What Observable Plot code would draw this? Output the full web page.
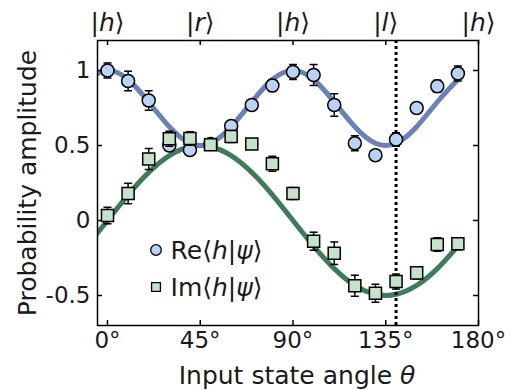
<!DOCTYPE html>
<html>
<head>
<meta charset="utf-8">
<script src="https://cdn.jsdelivr.net/npm/d3@7"></script>
<script src="https://cdn.jsdelivr.net/npm/@observablehq/plot@0.6"></script>
<style>
  html, body { margin: 0; padding: 0; background: #fff; }
</style>
</head>
<body>
<div id="chart"></div>
<script>
// ---- data ----
const theta   = [0, 10, 20, 30, 40, 50, 60, 70, 80, 90, 100, 110, 120, 130, 140, 150, 160, 170];
const reVals  = [1.0, 0.93, 0.80, 0.50, 0.47, 0.51, 0.63, 0.77, 0.90, 0.99, 0.97, 0.77, 0.515, 0.435, 0.54, 0.75, 0.895, 0.98];
const reErr   = [0.05, 0.065, 0.065, 0.03, 0.03, 0.02, 0.03, 0.02, 0.04, 0.05, 0.07, 0.075, 0.05, 0.02, 0.045, 0.02, 0.04, 0.05];
const imVals  = [0.033, 0.18, 0.41, 0.545, 0.547, 0.505, 0.56, 0.51, 0.378, 0.18, -0.138, -0.218, -0.435, -0.485, -0.407, -0.349, -0.16, -0.155];
const imErr   = [0.055, 0.068, 0.07, 0.05, 0.045, 0.03, 0.04, 0.03, 0.05, 0.04, 0.06, 0.075, 0.07, 0.06, 0.05, 0.04, 0.045, 0.04];

const curveTheta = [-10, 0, 10, 20, 30, 40, 50, 60, 70, 80, 90, 100, 110, 120, 130, 140, 150, 160, 170];
const reCurve    = [0.94, 1.0, 0.94, 0.79, 0.625, 0.515, 0.515, 0.625, 0.79, 0.94, 1.0, 0.94, 0.79, 0.625, 0.515, 0.515, 0.625, 0.79, 0.94];
const imCurve    = [-0.171, 0, 0.171, 0.321, 0.433, 0.492, 0.492, 0.433, 0.321, 0.171, 0, -0.171, -0.321, -0.433, -0.492, -0.492, -0.433, -0.321, -0.171];

const xTicks      = [0, 45, 90, 135, 180];
const xTickLabels = ["0°", "45°", "90°", "135°", "180°"];
const kets        = ["|h⟩", "|r⟩", "|h⟩", "|l⟩", "|h⟩"];
const yTicks      = [-0.5, 0, 0.5, 1];
const yTickLabels = ["-0.5", "0", "0.5", "1"];
const markerTheta = [140];
const legendLabels = ["Re⟨h|ψ⟩", "Im⟨h|ψ⟩"];
const xTitle = "Input state angle θ";
const yTitle = "Probability amplitude";

// ---- styling ----
const W = 515, H = 390, mL = 97, mR = 37, mT = 40, mB = 65;
const fW = W - mL - mR, fH = H - mT - mB;
const blueLine = "#6b80b6", blueFill = "#bad3f4";
const greenLine = "#3d7b5a", greenFill = "#c6e2ca";
const ink = "#1a1a1a";
const font = "'DejaVu Sans', sans-serif";

const pts = theta.map((t, i) => ({t, re: reVals[i], reE: reErr[i], im: imVals[i], imE: imErr[i]}));
const curve = curveTheta.map((t, i) => ({t, re: reCurve[i], im: imCurve[i]}));
const cap = {draw(ctx, size) { const w = Math.sqrt(size / Math.PI); ctx.moveTo(-w, 0); ctx.lineTo(w, 0); }};
const capOpts = {symbol: cap, r: 4, fill: "none", stroke: "black", strokeWidth: 1.5};

const plot = Plot.plot({
  width: W, height: H,
  marginLeft: mL, marginRight: mR, marginTop: mT, marginBottom: mB,
  x: {domain: [-4.85, 180], axis: null},
  y: {domain: [-0.7, 1.2], axis: null},
  style: {fontFamily: font, background: "white", color: ink},
  marks: [
    Plot.line(curve, {x: "t", y: "im", stroke: greenLine, strokeWidth: 5, curve: "natural", clip: true}),
    Plot.line(curve, {x: "t", y: "re", stroke: blueLine, strokeWidth: 5, curve: "natural", clip: true}),
    Plot.ruleX(markerTheta, {x: d => d, stroke: "black", strokeWidth: 3, strokeDasharray: "3,3"}),
    // Re error bars + points
    Plot.ruleX(pts, {x: "t", y1: d => d.re - d.reE, y2: d => d.re + d.reE, stroke: "black", strokeWidth: 1.5}),
    Plot.dot(pts, {x: "t", y: d => d.re + d.reE, ...capOpts}),
    Plot.dot(pts, {x: "t", y: d => d.re - d.reE, ...capOpts}),
    Plot.dot(pts, {x: "t", y: "re", r: 6.5, fill: blueFill, stroke: "black", strokeWidth: 1.5}),
    // Im error bars + points
    Plot.ruleX(pts, {x: "t", y1: d => d.im - d.imE, y2: d => d.im + d.imE, stroke: "black", strokeWidth: 1.5}),
    Plot.dot(pts, {x: "t", y: d => d.im + d.imE, ...capOpts}),
    Plot.dot(pts, {x: "t", y: d => d.im - d.imE, ...capOpts}),
    Plot.dot(pts, {x: "t", y: "im", symbol: "square", r: 6.8, fill: greenFill, stroke: "black", strokeWidth: 1.5}),
    // frame and inward ticks
    Plot.frame({stroke: "black", strokeWidth: 1.5}),
    Plot.tickX(xTicks, {x: d => d, insetTop: fH - 5, stroke: "black", strokeWidth: 1.5}),
    Plot.tickX(xTicks, {x: d => d, insetBottom: fH - 5, stroke: "black", strokeWidth: 1.5}),
    Plot.tickY(yTicks, {y: d => d, insetRight: fW - 5, stroke: "black", strokeWidth: 1.5}),
    Plot.tickY(yTicks, {y: d => d, insetLeft: fW - 5, stroke: "black", strokeWidth: 1.5}),
    // tick labels
    Plot.text(xTicks, {x: d => d, text: (d, i) => xTickLabels[i], frameAnchor: "bottom", lineAnchor: "middle", dy: 15, fontSize: 23, fill: ink}),
    Plot.text(xTicks, {x: d => d, text: (d, i) => kets[i], frameAnchor: "top", lineAnchor: "middle", dy: -18, fontSize: 25, fill: ink}),
    Plot.text(yTicks, {y: d => d, text: (d, i) => yTickLabels[i], frameAnchor: "left", textAnchor: "end", lineAnchor: "middle", dx: -7, fontSize: 23, fill: ink}),
    // axis titles
    Plot.text([xTitle], {frameAnchor: "bottom", textAnchor: "middle", lineAnchor: "middle", dx: 9, dy: 50, fontSize: 25, fill: ink}),
    Plot.text([yTitle], {frameAnchor: "left", textAnchor: "middle", lineAnchor: "middle", rotate: -90, dx: -70, fontSize: 25, fill: ink}),
    // legend
    Plot.dot([legendLabels[0]], {frameAnchor: "top-left", dx: 58.5, dy: 209.5, r: 5.3, fill: blueFill, stroke: "black", strokeWidth: 1.3}),
    Plot.dot([legendLabels[1]], {frameAnchor: "top-left", dx: 58.5, dy: 246.5, symbol: "square", r: 5, fill: greenFill, stroke: "black", strokeWidth: 1.3}),
    Plot.text([legendLabels[0]], {frameAnchor: "top-left", text: d => d, textAnchor: "start", lineAnchor: "middle",
      dx: 73, dy: 210, fontSize: 25, fill: ink}),
    Plot.text([legendLabels[1]], {frameAnchor: "top-left", text: d => d, textAnchor: "start", lineAnchor: "middle",
      dx: 73, dy: 247, fontSize: 25, fill: ink})
  ]
});

// italicize math symbols inside the real text elements
d3.select(plot).selectAll("text").each(function() {
  const s = this.textContent;
  const isKet = /[⟨⟩]/.test(s);
  if (!isKet && !s.includes("θ")) return;
  const italics = isKet ? "hrlψθ" : "θ";
  const sel = d3.select(this);
  sel.text("");
  for (const ch of s) {
    const t = sel.append("tspan").text(ch);
    if (italics.includes(ch)) t.attr("font-style", "italic");
  }
});

document.getElementById("chart").appendChild(plot);
</script>
</body>
</html>
